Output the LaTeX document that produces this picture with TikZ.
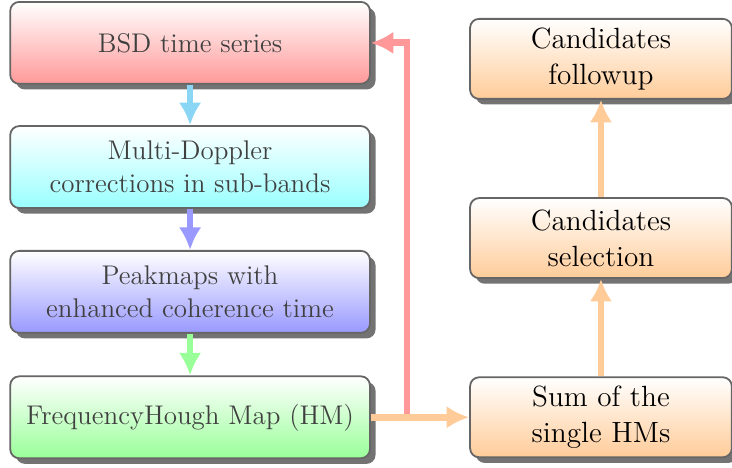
\documentclass[tikz,border=0pt]{standalone}
\usepackage{fontspec}
\usetikzlibrary{shadows,arrows.meta}

\begin{document}
\begin{tikzpicture}[thick,
  box/.style={draw=black!60,rounded corners=4pt,align=center,
    drop shadow={shadow xshift=2.5pt,shadow yshift=-2.5pt,fill=black!55,opacity=1}},
  leftbox/.style={box,minimum width=5.62cm,minimum height=1.28cm,
    text=black!75,font=\fontsize{12}{14.5}\selectfont},
  rightbox/.style={box,minimum width=4.09cm,minimum height=1.25cm,
    font=\fontsize{13}{16}\selectfont,top color=white,bottom color=orange!40},
  flow/.style={line width=3pt,-{Latex[length=10pt,width=10pt]}}]
\useasboundingbox (0,0) rectangle (11.4375,-7.3125);

\node (bsd) at (2.97,-0.67) [leftbox,top color=white,bottom color=red!40] {BSD time series};
\node (doppler) at (2.97,-2.61) [leftbox,top color=white,bottom color=cyan!40] {Multi-Doppler\\corrections in sub-bands};
\node (peak) at (2.97,-4.56) [leftbox,top color=white,bottom color=blue!40] {Peakmaps with\\enhanced coherence time};
\node (fh) at (2.97,-6.52) [leftbox,top color=white,bottom color=green!40] {FrequencyHough Map (HM)};

\node (sum) at (9.39,-6.52) [rightbox] {Sum of the\\single HMs};
\node (sel) at (9.39,-3.72) [rightbox] {Candidates\\selection};
\node (follow) at (9.39,-0.92) [rightbox] {Candidates\\followup};

\coordinate (split) at (6.36,-6.52);

\draw [flow,color={rgb,255:red,140;green,214;blue,245}] (bsd) -- (doppler);
\draw [flow,blue!40] (doppler) -- (peak);
\draw [flow,green!40] (peak) -- (fh);

\draw [flow,red!40] (split) |- (bsd.east);
\draw [flow,orange!40] (fh.east) -- (sum.west);
\draw [flow,orange!40] (sum) -- (sel);
\draw [flow,orange!40] (sel) -- (follow);
\end{tikzpicture}
\end{document}
